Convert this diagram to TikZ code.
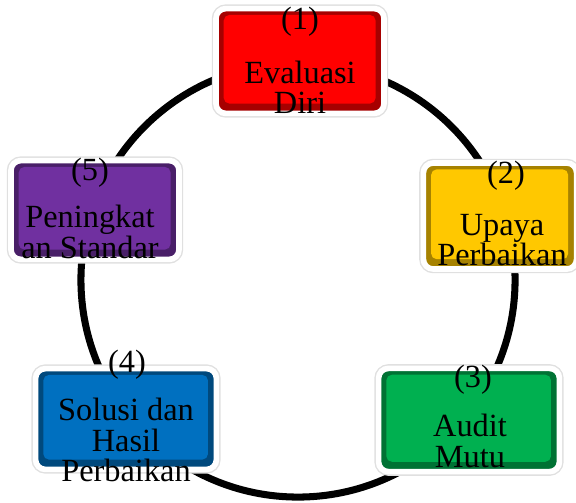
\documentclass[tikz,border=0pt]{standalone}
\usepackage{fontspec}
\setmainfont{Liberation Serif}
\usepackage{xcolor}
\usepackage{tikz}

\definecolor{merah}{RGB}{255,0,0}
\definecolor{kuning}{RGB}{255,200,0}
\definecolor{hijau}{RGB}{0,176,80}
\definecolor{biru}{RGB}{0,112,192}
\definecolor{ungu}{RGB}{112,48,160}

\begin{document}
\begin{tikzpicture}[x=0.025cm, y=-0.025cm,
        kotak/.style={rectangle, rounded corners=7pt, fill=#1!65!black,
        preaction={draw=black!12, line width=6pt},
        draw=white, line width=4pt,
        path picture={\fill[#1, rounded corners=4pt]
            ([shift={(5.5pt,-4.5pt)}]path picture bounding box.north west) rectangle
            ([shift={(-6pt,7pt)}]path picture bounding box.south east);}},
        teks/.style={font=\fontsize{23}{21.5}\selectfont, align=center,
        inner sep=0pt}]
        \useasboundingbox (0,0) rectangle (576,502);

        % lingkaran di belakang
        \node[circle, draw, line width=5pt, minimum size=10.85cm,
            inner sep=0pt] (lingkaran) at (298,280) {};

        \node[kotak=merah, minimum width=4.2cm, minimum height=2.62cm] (K1) at (300,61) {};
        \node[kotak=kuning, minimum width=3.83cm, minimum height=2.65cm] (K2) at (500,216) {};
        \node[kotak=hijau, minimum width=4.52cm, minimum height=2.58cm] (K3) at (469,420) {};
        \node[kotak=biru, minimum width=4.52cm, minimum height=2.52cm] (K4) at (126,419) {};
        \node[kotak=ungu, minimum width=4.2cm, minimum height=2.47cm] (K5) at (95,210) {};

        \node[teks] (N1) at (300,22) {(1)};
        \node[teks] (T1) at (300,87) {Evaluasi\\Diri};
        \node[teks] (N2) at (506,176) {(2)};
        \node[teks] (T2) at (502,240) {Upaya\\Perbaikan};
        \node[teks] (N3) at (473,380) {(3)};
        \node[teks] (T3) at (470,441) {Audit\\Mutu};
        \node[teks] (N4) at (127,365) {(4)};
        \node[teks] (T4) at (126,440) {Solusi dan\\Hasil\\Perbaikan};
        \node[teks] (N5) at (90,173) {(5)};
        \node[teks] (T5) at (90,232) {Peningkat\\an Standar};
    \end{tikzpicture}
\end{document}
